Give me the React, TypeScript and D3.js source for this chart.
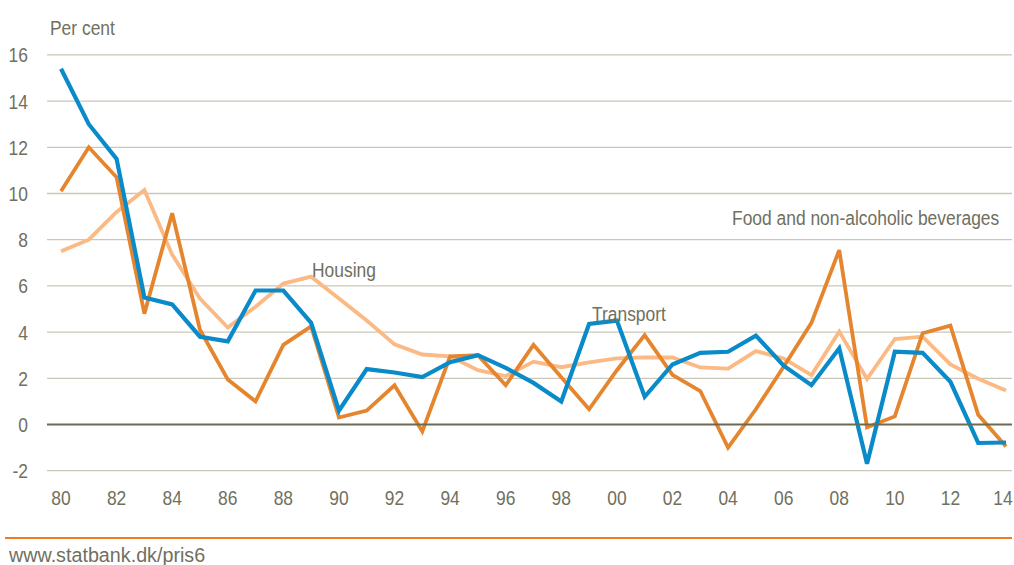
import React from "react";
import * as d3 from "d3";

const years = d3.range(1980, 2015);
const transport = [15.4, 13.0, 11.5, 5.5, 5.2, 3.8, 3.6, 5.8, 5.8, 4.4, 0.6, 2.4, 2.25, 2.05, 2.7, 3.0, 2.45, 1.8, 1.0, 4.35, 4.5, 1.2, 2.6, 3.1, 3.15, 3.85, 2.55, 1.7, 3.3, -1.7, 3.15, 3.1, 1.85, -0.8, -0.78];
const food = [10.1, 12.0, 10.7, 4.8, 9.15, 4.1, 1.95, 1.0, 3.45, 4.25, 0.3, 0.6, 1.7, -0.3, 2.95, 3.0, 1.7, 3.45, 2.05, 0.66, 2.35, 3.87, 2.15, 1.45, -1.0, 0.66, 2.5, 4.4, 7.55, -0.12, 0.35, 3.95, 4.28, 0.42, -0.95];
const housing = [7.5, 8.0, 9.2, 10.15, 7.35, 5.45, 4.2, 5.1, 6.1, 6.4, 5.45, 4.5, 3.47, 3.03, 2.95, 2.35, 2.1, 2.72, 2.48, 2.69, 2.86, 2.91, 2.9, 2.47, 2.42, 3.18, 2.86, 2.14, 4.02, 1.97, 3.7, 3.8, 2.6, 1.98, 1.47];
const yTicks = [-2, 0, 2, 4, 6, 8, 10, 12, 14, 16];
const xTickYears = d3.range(1980, 2015, 2);

const seriesList = [
  { name: "Housing", values: housing, color: "#fbb983", width: 3.8 },
  { name: "Food and non-alcoholic beverages", values: food, color: "#e5862e", width: 3.8 },
  { name: "Transport", values: transport, color: "#0a8bc9", width: 4.2 },
];

const FONT = "'Liberation Sans', Arial, sans-serif";
const TEXT = "#707060";

function T({ x, y, anchor = "start", sx = 0.83, children }: { x: number; y: number; anchor?: string; sx?: number; children: React.ReactNode }) {
  return (
    <text transform={`translate(${x},${y}) scale(${sx},1)`} textAnchor={anchor} fontFamily={FONT} fontSize={21} fill={TEXT}>
      {children}
    </text>
  );
}

export default function App() {
  const W = 1014, H = 565;
  const x = d3.scaleLinear().domain([1980, 2014]).range([61, 1006]);
  const y = d3.scaleLinear().domain([-2, 16]).range([470.7, 54.9]);
  const line = d3.line<number>().x((_, i) => x(years[i])).y((d) => y(d));
  const fmtYear = (yr: number) => String(yr % 100).padStart(2, "0");

  return (
    <svg width={W} height={H} style={{ position: "absolute", left: 0, top: 0 }}>
      <rect width={W} height={H} fill="#fff" />
      {yTicks.map((t) => (
        <g key={t}>
          {t !== 0 && <line x1={47} x2={1012} y1={y(t)} y2={y(t)} stroke="#c9c7b9" strokeWidth={1.3} />}
          <T x={28} y={y(t) + 7.5} anchor="end">{t}</T>
        </g>
      ))}
      <T x={50} y={35}>Per cent</T>
      {xTickYears.map((yr) => (
        <T key={yr} x={Math.min(x(yr), 1003)} y={505} anchor="middle">{fmtYear(yr)}</T>
      ))}
      {seriesList.map((s) => (
        <path key={s.name} d={line(s.values) || ""} fill="none" stroke={s.color} strokeWidth={s.width} strokeLinejoin="miter" strokeMiterlimit={3} />
      ))}
      <line x1={47} x2={1012} y1={y(0)} y2={y(0)} stroke="#6b6a55" strokeWidth={2} />
      <T x={312} y={277}>Housing</T>
      <T x={592} y={321}>Transport</T>
      <T x={732} y={225}>Food and non-alcoholic beverages</T>
      <line x1={5} x2={1012} y1={538} y2={538} stroke="#f07b22" strokeWidth={2.2} />
      <T x={9} y={562} sx={0.94}>www.statbank.dk/pris6</T>
    </svg>
  );
}
